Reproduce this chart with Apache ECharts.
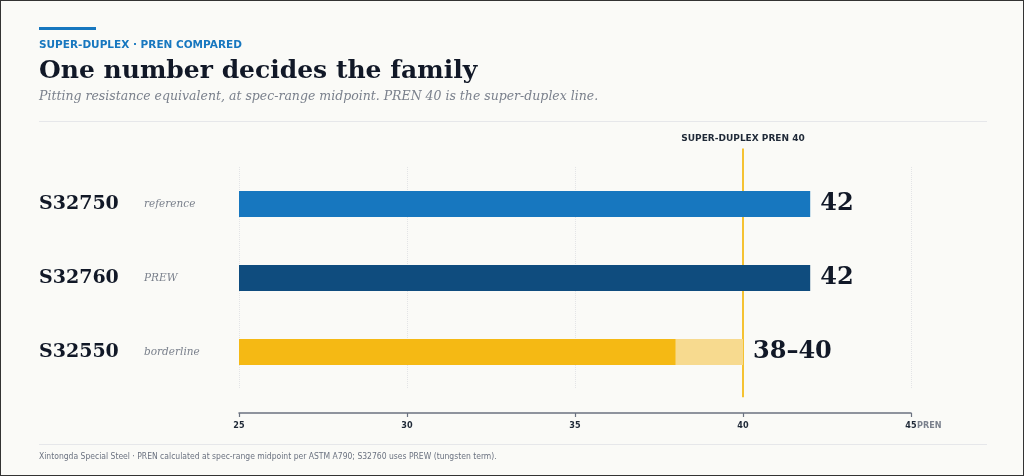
<!DOCTYPE html>
<html>
<head>
    <meta charset="utf-8">
    <title>PREN compared</title>
    <script src="https://cdn.jsdelivr.net/npm/echarts@6.0.0/dist/echarts.min.js"></script>
    <style>
        html, body { margin: 0; padding: 0; background: #fafaf7; }
        #chart { width: 1024px; height: 476px; box-sizing: border-box; border: 1px solid #333; }
    </style>
</head>
<body>
    <div id="chart"></div>

    <script>
        // grades, notes and PREN range (low / high)
        const grades = ['S32750', 'S32760', 'S32550'];
        const notes = ['reference', 'PREW', 'borderline'];
        const prenLow = [42, 42, 38];
        const prenHigh = [42, 42, 40];
        const barColors = ['#1777bf', '#0f4c7e', '#f5b914'];
        const rangeColor = '#f7da8f';
        const threshold = 40;
        const xTicks = { min: 25, max: 45, step: 5 };

        const serif = '"DejaVu Serif", Georgia, serif';
        const sans = '"DejaVu Sans", sans-serif';
        const sansC = '"DejaVu Sans Condensed", "DejaVu Sans", sans-serif';

        const rangeData = prenLow.map((v, i) => prenHigh[i] - v || null);
        const valueText = i => prenLow[i] === prenHigh[i] ? String(prenLow[i]) : prenLow[i] + '–' + prenHigh[i];

        const valueLabel = {
            show: true,
            position: 'right',
            distance: 10,
            fontFamily: serif,
            fontWeight: 'bold',
            fontSize: 24,
            color: '#111827'
        };

        const chart = echarts.init(document.getElementById('chart'));

        const option = {
            backgroundColor: '#fafaf7',
            animation: false,
            graphic: [
                { type: 'rect', left: 38, top: 26, shape: { width: 57, height: 3 }, style: { fill: '#1777bf' } },
                { type: 'text', left: 38, top: 39, style: { text: 'SUPER-DUPLEX · PREN COMPARED', font: 'bold 10.5px ' + sans, fill: '#1777bf' } },
                { type: 'text', left: 38, top: 58, style: { text: 'One number decides the family', font: 'bold 25px ' + serif, fill: '#111827' } },
                { type: 'text', left: 38, top: 89, style: { text: 'Pitting resistance equivalent, at spec-range midpoint. PREN 40 is the super-duplex line.', font: 'italic 12.5px ' + serif, fill: '#7a808c' } },
                { type: 'rect', left: 38, top: 120, shape: { width: 948, height: 1 }, style: { fill: '#e6e7ea' } },
                { type: 'rect', left: 38, top: 443, shape: { width: 948, height: 1 }, style: { fill: '#e6e7ea' } },
                { type: 'text', left: 38, top: 451, style: { text: 'Xintongda Special Steel · PREN calculated at spec-range midpoint per ASTM A790; S32760 uses PREW (tungsten term).', font: '8.5px ' + sansC, fill: '#6b7280' } }
            ],
            grid: { left: 238, right: 112, top: 166, height: 222 },
            xAxis: {
                type: 'value',
                min: xTicks.min,
                max: xTicks.max,
                interval: xTicks.step,
                offset: 24,
                name: 'PREN',
                nameLocation: 'end',
                nameGap: 6,
                nameMoveOverlap: false,
                nameTextStyle: { color: '#7a808c', fontFamily: sansC, fontWeight: 'bold', fontSize: 9, verticalAlign: 'top', padding: [8, 0, 0, 0] },
                axisLine: { show: true, lineStyle: { color: '#6b7280', width: 1.5 } },
                axisTick: { show: true, inside: false, length: 4, lineStyle: { color: '#6b7280', width: 1.2 } },
                axisLabel: { color: '#1f2937', fontFamily: sansC, fontWeight: 'bold', fontSize: 9, margin: 8 },
                splitLine: { show: true, lineStyle: { color: '#e3e4e6', type: 'dotted' } }
            },
            yAxis: {
                type: 'category',
                inverse: true,
                data: grades,
                axisLine: { show: false },
                axisTick: { show: false },
                axisLabel: {
                    align: 'left',
                    margin: 200,
                    formatter: (v, i) => '{code|' + v + '}{note|' + notes[i] + '}',
                    rich: {
                        code: { fontFamily: serif, fontWeight: 'bold', fontSize: 19, color: '#111827', width: 105 },
                        note: { fontFamily: serif, fontStyle: 'italic', fontSize: 10.5, color: '#7a808c' }
                    }
                }
            },
            series: [
                {
                    type: 'custom',
                    z: 1,
                    clip: false,
                    silent: true,
                    data: [[threshold, 0]],
                    renderItem: (params, api) => {
                        const p0 = api.coord([threshold, 0]);
                        const p2 = api.coord([threshold, grades.length - 1]);
                        const band = api.size([0, 1])[1];
                        const top = p0[1] - band * 0.75;
                        const bottom = p2[1] + band * 0.61;
                        return {
                            type: 'group',
                            children: [
                                { type: 'line', shape: { x1: p0[0], y1: top, x2: p0[0], y2: bottom }, style: { stroke: '#f5c232', lineWidth: 2 } },
                                { type: 'text', x: p0[0], y: top - 10, style: { text: 'SUPER-DUPLEX PREN ' + threshold, font: 'bold 9px ' + sans, fill: '#1f2937', align: 'center', verticalAlign: 'middle' } }
                            ]
                        };
                    }
                },
                {
                    type: 'bar',
                    z: 2,
                    stack: 'pren',
                    barWidth: 26,
                    data: prenLow.map((v, i) => ({ value: v, itemStyle: { color: barColors[i] } })),
                    label: Object.assign({}, valueLabel, {
                        formatter: p => rangeData[p.dataIndex] ? '' : valueText(p.dataIndex)
                    })
                },
                {
                    type: 'bar',
                    z: 2,
                    stack: 'pren',
                    barWidth: 26,
                    itemStyle: { color: rangeColor },
                    data: rangeData,
                    label: Object.assign({}, valueLabel, {
                        formatter: p => valueText(p.dataIndex)
                    })
                }
            ]
        };

        chart.setOption(option);
    </script>
</body>
</html>
